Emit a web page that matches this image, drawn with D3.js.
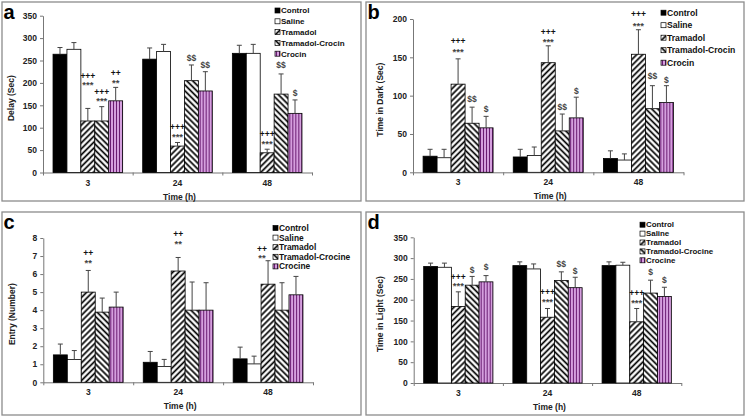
<!DOCTYPE html>
<html>
<head>
<meta charset="utf-8">
<script src="https://cdn.jsdelivr.net/npm/d3@7"></script>
<style>
  body { margin: 0; background: #fff; }
  svg { display: block; font-family: "Liberation Sans", Arial, sans-serif; }
</style>
</head>
<body>
<svg width="746" height="418"></svg>
<script>
// ---- data ----
const times = ['3', '24', '48'];
const namesAB = ['Control', 'Saline', 'Tramadol', 'Tramadol-Crocin', 'Crocin'];
const namesCD = ['Control', 'Saline', 'Tramadol', 'Tramadol-Crocine', 'Crocine'];

// rows = time (3, 24, 48 h), columns = group
const delayMean = [[264, 275, 115, 115, 160], [253, 270, 59, 205, 182], [266, 266, 44, 175, 132]];
const delayErr  = [[15, 15, 28, 32, 30], [25, 16, 8, 35, 43], [18, 20, 8, 45, 30]];
const darkMean  = [[21, 19, 115, 64, 58], [20, 22, 143, 54, 71], [18, 16, 154, 83, 91]];
const darkErr   = [[9, 11, 33, 21, 15], [10, 11, 22, 22, 27], [10, 8, 32, 30, 22]];
const entryMean = [[1.52, 1.26, 5.0, 3.89, 4.17], [1.11, 0.87, 6.17, 4.0, 4.0], [1.3, 1.02, 5.44, 4.0, 4.85]];
const entryErr  = [[0.6, 0.5, 1.2, 0.78, 0.83], [0.6, 0.4, 0.75, 1.56, 1.52], [0.65, 0.43, 1.3, 1.52, 1.02]];
const lightMean = [[280, 278, 184, 235, 243], [282, 274, 158, 246, 229], [282, 283, 147, 216, 208]];
const lightErr  = [[8, 10, 35, 21, 15], [9, 12, 21, 21, 25], [9, 7, 32, 31, 22]];

const delayTicks = [0, 50, 100, 150, 200, 250, 300, 350];
const darkTicks  = [0, 50, 100, 150, 200];
const entryTicks = [0, 1, 2, 3, 4, 5, 6, 7, 8];
const lightTicks = [0, 50, 100, 150, 200, 250, 300, 350];

// significance marks: [time index, group index, text, value level]
const delayNotes = [[0, 2, '+++', 216], [0, 2, '***', 200], [0, 3, '+++', 180], [0, 3, '***', 163],
  [0, 4, '++', 221], [0, 4, '**', 205], [1, 2, '+++', 102], [1, 2, '***', 84], [1, 3, '$$', 255],
  [1, 4, '$$', 240], [2, 2, '+++', 86], [2, 2, '***', 69], [2, 3, '$$', 240], [2, 4, '$', 177]];
const darkNotes = [[0, 2, '+++', 171], [0, 2, '***', 160], [0, 3, '$$', 95], [0, 4, '$', 82],
  [1, 2, '+++', 183], [1, 2, '***', 172], [1, 3, '$$', 85], [1, 4, '$', 106],
  [2, 2, '+++', 206], [2, 2, '***', 194], [2, 3, '$$', 125], [2, 4, '$', 121]];
const entryNotes = [[0, 2, '++', 7.15], [0, 2, '**', 6.7], [1, 2, '++', 8.2], [1, 2, '**', 7.8],
  [2, 2, '++', 7.4], [2, 2, '**', 7.0]];
const lightNotes = [[0, 2, '+++', 255], [0, 2, '***', 238], [0, 3, '$', 272], [0, 4, '$', 278],
  [1, 2, '+++', 219], [1, 2, '***', 200], [1, 3, '$$', 286], [1, 4, '$', 270],
  [2, 2, '+++', 216], [2, 2, '***', 198], [2, 3, '$', 266], [2, 4, '$', 248]];

// ---- drawing ----
const svg = d3.select('svg');
svg.append('rect').attr('width', 746).attr('height', 418).attr('fill', '#fff');
const defs = svg.append('defs');

function stripes(id, angle, w, bg, fg, lw) {
  const p = defs.append('pattern')
    .attr('id', id)
    .attr('patternUnits', 'userSpaceOnUse')
    .attr('width', w).attr('height', w)
    .attr('patternTransform', `rotate(${angle})`);
  p.append('rect').attr('width', w).attr('height', w).attr('fill', bg);
  p.append('line')
    .attr('x1', w / 2).attr('x2', w / 2).attr('y1', 0).attr('y2', w)
    .attr('stroke', fg).attr('stroke-width', lw);
}
stripes('up', 45, 4.2, '#fff', '#000', 1.7);
stripes('down', -45, 4.2, '#fff', '#000', 1.7);
stripes('vert', 0, 3, '#dba6e4', '#6a1d72', 1.1);
const fills = ['#000', '#fff', 'url(#up)', 'url(#down)', 'url(#vert)'];

const panels = [
  { tag: 'a', box: [2, 2, 361, 201], l: 43, r: 312, t: 15.7, b: 172.5,
    mean: delayMean, err: delayErr, ticks: delayTicks, notes: delayNotes, names: namesAB,
    title: 'Delay (Sec)', titleX: 11, legend: { x: 275, y: 10.5, step: 10.8, fs: 8 } },
  { tag: 'b', box: [366, 2, 744, 201], l: 413, r: 683.5, t: 19, b: 172.3,
    mean: darkMean, err: darkErr, ticks: darkTicks, notes: darkNotes, names: namesAB,
    title: 'Time in Dark (Sec)', titleX: 380, legend: { x: 661, y: 12.7, step: 12.5, fs: 8.6 } },
  { tag: 'c', box: [2, 212, 361, 415], l: 43.3, r: 313, t: 238, b: 382.3,
    mean: entryMean, err: entryErr, ticks: entryTicks, notes: entryNotes, names: namesCD,
    title: 'Entry (Number)', titleX: 12, legend: { x: 273, y: 228, step: 9.6, fs: 8.4 },
    shift: { '2,2': -6 } },
  { tag: 'd', box: [366, 212, 744, 415], l: 413.7, r: 681.3, t: 237.3, b: 383,
    mean: lightMean, err: lightErr, ticks: lightTicks, notes: lightNotes, names: namesCD,
    title: 'Time in Light (Sec)', titleX: 380, legend: { x: 640, y: 224.7, step: 8.9, fs: 7.9 } }
];

function drawPanel(p) {
  const g = svg.append('g');
  g.append('rect')
    .attr('x', p.box[0]).attr('y', p.box[1])
    .attr('width', p.box[2] - p.box[0]).attr('height', p.box[3] - p.box[1])
    .attr('fill', '#fff').attr('stroke', '#8c8c8c').attr('stroke-width', 1.3);

  const y = d3.scaleLinear().domain([0, d3.max(p.ticks)]).range([p.b, p.t]);
  const x0 = d3.scaleBand().domain(times).range([p.l, p.r]);
  const x1 = d3.scaleBand().domain(d3.range(5)).range([0, x0.bandwidth()]).paddingOuter(0.72);

  // axes
  const yAxis = g.append('g')
    .attr('transform', `translate(${p.l},0)`)
    .call(d3.axisLeft(y).tickValues(p.ticks).tickSize(3).tickSizeOuter(0).tickPadding(3));
  const xTicks = d3.scaleLinear().domain([0, times.length]).range([p.l, p.r]);
  const xAxis = g.append('g')
    .attr('transform', `translate(0,${p.b})`)
    .call(d3.axisBottom(xTicks).tickValues(d3.range(times.length + 1)).tickSize(3).tickSizeOuter(0).tickFormat(''));
  const xLab = g.append('g')
    .attr('transform', `translate(0,${p.b})`)
    .call(d3.axisBottom(x0).tickSize(0).tickPadding(7));
  xLab.select('.domain').remove();
  [yAxis, xAxis].forEach(a => {
    a.select('.domain').attr('stroke', '#777');
    a.selectAll('.tick line').attr('stroke', '#777');
  });
  [yAxis, xLab].forEach(a => a.selectAll('text')
    .attr('font-family', '"Liberation Sans", Arial, sans-serif')
    .attr('font-size', 8.5).attr('font-weight', 'bold').attr('fill', '#222'));

  // bars
  const rows = times.map((t, i) => p.mean[i].map((v, j) => ({ t, j, v, e: p.err[i][j] })));
  const grp = g.append('g').selectAll('g').data(rows).join('g')
    .attr('transform', d => `translate(${x0(d[0].t)},0)`);
  grp.selectAll('rect').data(d => d).join('rect')
    .attr('x', d => x1(d.j))
    .attr('y', d => y(d.v))
    .attr('width', x1.bandwidth())
    .attr('height', d => y(0) - y(d.v))
    .attr('fill', d => fills[d.j])
    .attr('stroke', '#000').attr('stroke-width', 0.8);

  // error bars (upper only)
  const eb = grp.selectAll('g.eb').data(d => d).join('g').attr('class', 'eb')
    .attr('stroke', '#444').attr('stroke-width', 1);
  eb.append('line')
    .attr('x1', d => x1(d.j) + x1.bandwidth() / 2).attr('x2', d => x1(d.j) + x1.bandwidth() / 2)
    .attr('y1', d => y(d.v)).attr('y2', d => y(d.v + d.e));
  eb.append('line')
    .attr('x1', d => x1(d.j) + x1.bandwidth() / 2 - 2.5).attr('x2', d => x1(d.j) + x1.bandwidth() / 2 + 2.5)
    .attr('y1', d => y(d.v + d.e)).attr('y2', d => y(d.v + d.e));

  // significance marks, stacked marks of one bar share one text element
  const shift = p.shift || {};
  const stacks = Array.from(d3.group(p.notes, d => d[0] + ',' + d[1]), ([k, v]) => ({ k, v }));
  const noteX = s => x0(times[s.v[0][0]]) + x1(s.v[0][1]) + x1.bandwidth() / 2 + (shift[s.k] || 0);
  g.append('g').selectAll('text').data(stacks).join('text')
    .attr('text-anchor', 'middle')
    .attr('font-weight', 'bold')
    .each(function (s) {
      d3.select(this).selectAll('tspan').data(s.v).join('tspan')
        .attr('x', noteX(s))
        .attr('y', d => y(d[3]) + (d[2][0] === '*' ? 5 : 3))
        .attr('font-size', d => d[2][0] === '*' ? 9.5 : 8.5)
        .attr('fill', d => d[2][0] === '+' ? '#111' : '#444')
        .text(d => d[2]);
    });

  // titles
  g.append('text')
    .attr('transform', `translate(${p.titleX},${(p.t + p.b) / 2 + 4}) rotate(-90)`)
    .attr('text-anchor', 'middle').attr('dy', '0.35em')
    .attr('font-size', 8.5).attr('font-weight', 'bold').attr('fill', '#222')
    .text(p.title);
  g.append('text')
    .attr('x', (p.l + p.r) / 2 + 2).attr('y', p.b + 27)
    .attr('text-anchor', 'middle')
    .attr('font-size', 8.5).attr('font-weight', 'bold').attr('fill', '#222')
    .text('Time (h)');
  g.append('text')
    .attr('x', p.box[0] + 1.5).attr('y', p.box[1] + 16.5)
    .attr('font-size', 20).attr('font-weight', 'bold').attr('fill', '#000')
    .text(p.tag);

  // legend
  const lg = g.append('g').selectAll('g').data(p.names).join('g')
    .attr('transform', (d, i) => `translate(${p.legend.x},${p.legend.y + i * p.legend.step})`);
  lg.append('rect')
    .attr('x', 0).attr('y', -2.5).attr('width', 5).attr('height', 5)
    .attr('fill', (d, i) => fills[i]).attr('stroke', '#000').attr('stroke-width', 0.7);
  lg.append('text')
    .attr('x', 6).attr('dy', '0.35em')
    .attr('font-size', p.legend.fs).attr('font-weight', 'bold').attr('fill', '#111')
    .text(d => d);
}

panels.forEach(drawPanel);
</script>
</body>
</html>
